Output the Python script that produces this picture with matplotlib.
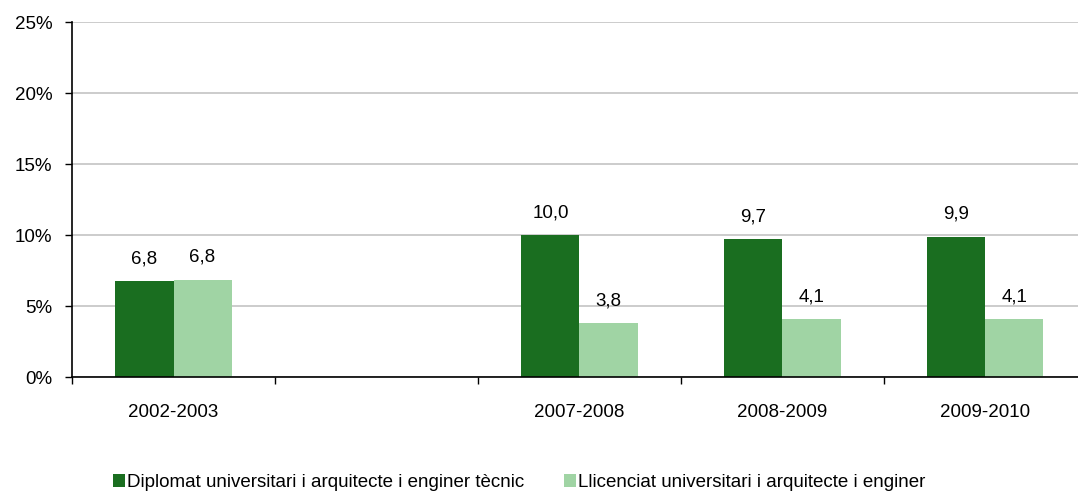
import numpy as np
import matplotlib.pyplot as plt
from matplotlib.ticker import MultipleLocator, FixedLocator, PercentFormatter

plt.rcParams['font.family'] = ['Liberation Sans', 'DejaVu Sans']

# Data
periods = ['2002-2003', '', '2007-2008', '2008-2009', '2009-2010']
diplomat = [6.75, np.nan, 10.0, 9.7, 9.9]
llicenciat = [6.85, np.nan, 3.8, 4.1, 4.1]
series_names = ['Diplomat universitari i arquitecte i enginer tècnic',
                'Llicenciat universitari i arquitecte i enginer']

dark_green = '#1a6e20'
light_green = '#a0d4a4'
fs = 13.5

fig = plt.figure(figsize=(10.78, 4.93), dpi=100)
ax = fig.add_axes([0.0668, 0.235, 0.9332, 0.72])

x = np.arange(len(periods))
w = 0.286
b1 = ax.bar(x - w / 2, diplomat, width=w, color=dark_green, label=series_names[0])
b2 = ax.bar(x + w / 2, llicenciat, width=w, color=light_green, label=series_names[1])

for bars, vals in ((b1, diplomat), (b2, llicenciat)):
    for rect, v in zip(bars, vals):
        if np.isnan(v):
            continue
        ax.annotate(f'{v:.1f}'.replace('.', ','),
                    (rect.get_x() + rect.get_width() / 2, v),
                    xytext=(0, 10), textcoords='offset points',
                    ha='center', va='bottom', fontsize=fs)

ax.set_ylim(0, 25)
ax.set_xlim(-0.5, 4.456)
ax.yaxis.set_major_locator(MultipleLocator(5))
ax.yaxis.set_major_formatter(PercentFormatter(decimals=0))
ax.grid(axis='y', color='#c4c4c4', linewidth=1.2)
ax.set_axisbelow(True)

# category boundaries as ticks, labels at centres
ax.xaxis.set_major_locator(FixedLocator(np.arange(-0.5, 4.5, 1.0)))
ax.set_xticklabels([])
ax.set_xticks(x, minor=True)
ax.set_xticklabels(periods, minor=True, fontsize=fs)
ax.tick_params(axis='x', which='minor', length=0, pad=19)
ax.tick_params(axis='x', which='major', length=5, width=1, direction='out')
ax.tick_params(axis='y', length=5, width=1, labelsize=fs, pad=9)

for s in ('top', 'right'):
    ax.spines[s].set_visible(False)
for s in ('left', 'bottom'):
    ax.spines[s].set_linewidth(1.2)
    ax.spines[s].set_color('black')

fig.legend(handles=[b1, b2], loc='lower left', bbox_to_anchor=(0.1048, 0.004),
           ncol=2, frameon=False, fontsize=fs, handlelength=0.62, handleheight=0.62,
           handletextpad=0.15, columnspacing=2.1, borderpad=0, borderaxespad=0)

fig.savefig('out.png', dpi=100)
